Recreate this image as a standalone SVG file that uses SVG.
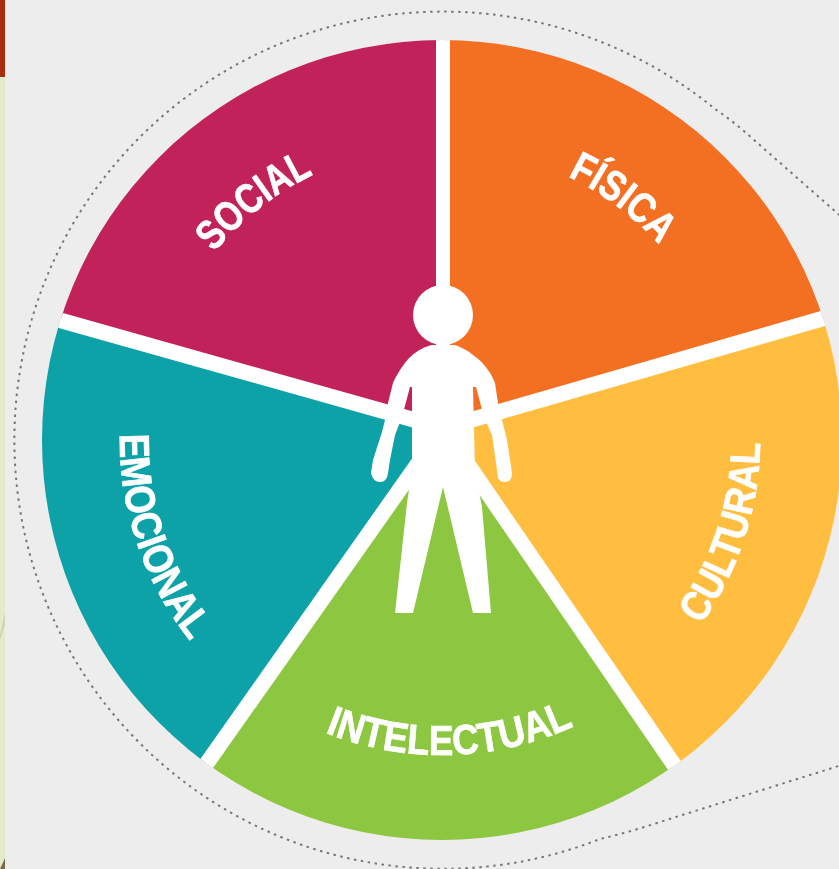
<svg xmlns="http://www.w3.org/2000/svg" width="839" height="869" viewBox="0 0 839 869">
  <style>
    .lbl { font-family: "Liberation Sans", Arial, sans-serif; font-weight: 700; font-size: 42px; fill: #fff; stroke: #fff; stroke-width: 0.7; }
    .spoke { stroke: #fff; stroke-width: 15.5; fill: none; }
  </style>
  <defs>
    <filter id="soft" x="-5%" y="-5%" width="110%" height="110%"><feGaussianBlur stdDeviation="0.6"/></filter>
    <clipPath id="disc"><circle cx="442" cy="440" r="400"/></clipPath>
    <path id="pSocial" d="M214.3,252.4 A295,295 0 0 1 365.6,155"/>
    <path id="pFisica" d="M567.7,176.4 A292,292 0 0 1 694.9,294"/>
    <path id="pCultural" d="M700.8,624.7 A318,318 0 0 0 755.2,384.8"/>
    <path id="pEmocional" d="M120,434 A322,322 0 0 0 235,686.7"/>
    <path id="pIntelectual" d="M325,732.5 A315,315 0 0 0 622.7,698"/>
  </defs>
  <rect id="background" width="839" height="869" fill="#ededed"/>
  <g id="edge-strip">
    <rect width="5" height="77" fill="#a82e0d"/>
    <rect y="77" width="5" height="792" fill="#e4ebcd"/>
    <path d="M0,635 L5,612 L5,625 L0,640 Z" fill="#d2d3b4"/>
    <path d="M0,869 L5,858 L5,869 Z" fill="#7d6a48"/>
  </g>
  <path id="outline" d="M845,220 L745,132 Q730,119 715,109 A428.6,428.6 0 1 0 600,839 Q630,832 660,822 L845,764" fill="none" stroke="#777" stroke-width="2" stroke-dasharray="2.5 4.5"/>
  <g filter="url(#soft)">
    <g clip-path="url(#disc)">
      <g id="social">
        <path d="M443,428 L62,321 L-20,0 L443,0 Z" fill="#c1245a"/>
        <text class="lbl"><textPath href="#pSocial" textLength="127" lengthAdjust="spacingAndGlyphs">SOCIAL</textPath></text>
      </g>
      <g id="fisica">
        <path d="M443,428 L443,0 L860,0 L825,318 Z" fill="#f36f24"/>
        <text class="lbl"><textPath href="#pFisica" textLength="115" lengthAdjust="spacingAndGlyphs">FÍSICA</textPath></text>
      </g>
      <g id="cultural">
        <path d="M443,428 L825,318 L860,400 L860,869 L673,763 Z" fill="#ffbe40"/>
        <text class="lbl"><textPath href="#pCultural" textLength="194" lengthAdjust="spacingAndGlyphs">CULTURAL</textPath></text>
      </g>
      <g id="intelectual">
        <path d="M443,428 L673,763 L673,869 L208,869 L208,762 Z" fill="#8dc63f"/>
        <text class="lbl"><textPath href="#pIntelectual" textLength="256" lengthAdjust="spacingAndGlyphs">INTELECTUAL</textPath></text>
      </g>
      <g id="emocional">
        <path d="M443,428 L208,762 L0,869 L0,321 L62,321 Z" fill="#0ea1a8"/>
        <text class="lbl"><textPath href="#pEmocional" textLength="223" lengthAdjust="spacingAndGlyphs">EMOCIONAL</textPath></text>
      </g>
      <g id="connectors">
        <path class="spoke" style="stroke-width:14" d="M443,428 L443,30"/>
        <path class="spoke" d="M443,428 L835,315"/>
        <path class="spoke" d="M443,428 L52,318"/>
        <path class="spoke" d="M443,428 L200,773"/>
        <path class="spoke" d="M443,428 L681,775"/>
      </g>
    </g>
    <g id="person" fill="#fff">
      <circle cx="443" cy="315" r="30"/>
      <path d="M432,345 C424,347 419,350 415,353 C409,357 404,364 400,370 C397,375 394,380 393,383 L388,403 L385,420 L382,432 L373,460 L371,473 Q373,482 380,482 Q387,482 388,473 L390,460 L395,435 L402,417 L410,387 L412,387 L412,470 L407,503 L395,613 L413,613 L443,487 L473,613 L491,613 L482,507 L475,470 L473,387 L476,387 L484,417 L492,435 L497,470 L498,478 Q500,482 505,482 Q512,482 512,473 L507,440 L502,420 L498,403 L495,383 C493,378 491,374 488,370 C484,364 479,359 473,355 C467,350 461,347 455,345 Z"/>
    </g>
  </g>
</svg>
